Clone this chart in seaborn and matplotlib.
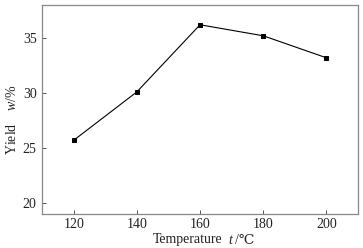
import pandas as pd
import matplotlib
matplotlib.use('Agg')
import matplotlib.pyplot as plt
import seaborn as sns

# Data
temperature = [120, 140, 160, 180, 200]
yield_pct = [25.7, 30.1, 36.2, 35.2, 33.2]
x_ticks = [120, 140, 160, 180, 200]
y_ticks = [20, 25, 30, 35]

df = pd.DataFrame({'temperature': temperature, 'yield': yield_pct})

sns.set_style('ticks')
serif = ['Liberation Serif', 'DejaVu Serif']
plt.rcParams['font.family'] = serif
plt.rcParams['mathtext.fontset'] = 'custom'
plt.rcParams['mathtext.it'] = 'Liberation Serif:italic'
plt.rcParams['mathtext.rm'] = 'Liberation Serif'

W, H = 363, 248
fig, ax = plt.subplots(figsize=(W / 100, H / 100), dpi=100)
fig.subplots_adjust(left=0.116, right=0.986, top=0.98, bottom=0.137)

sns.lineplot(data=df, x='temperature', y='yield', ax=ax, color='black',
             linewidth=0.8, marker='s', markersize=3.3, markeredgecolor='black')

ax.set_xlim(110, 210)
ax.set_ylim(19, 38)
ax.set_xticks(x_ticks)
ax.set_yticks(y_ticks)
ax.tick_params(direction='in', length=3, width=0.7, labelsize=10, color='#555555',
               labelcolor='#222222', pad=4)
ax.tick_params(axis='x', pad=3)
for s in ax.spines.values():
    s.set_color('#888888')
    s.set_linewidth(0.9)
ax.set_xlabel('')
ax.set_ylabel('Yield    $w$/%', fontsize=10, color='#222222', va='center')
ax.yaxis.set_label_coords(-0.095, 0.45)

# x label built from pieces so the degree sign can fall back to DejaVu
ly = 1 - 240 / H
fig.text(222 / W, ly, 'Temperature', ha='right', va='center', fontsize=10,
         color='#222222', family=serif)
fig.text(228 / W, ly, 't', ha='left', va='center', fontsize=10,
         color='#222222', family=serif, style='italic')
fig.text(235 / W, ly, '/\u2103', ha='left', va='center', fontsize=10,
         color='#222222', family=serif)

fig.savefig('out.png', dpi=100)
